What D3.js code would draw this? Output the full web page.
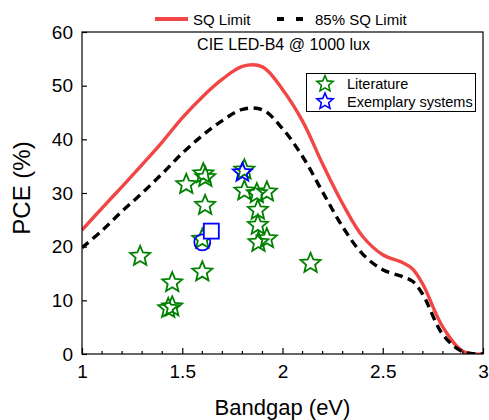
<!DOCTYPE html>
<html>
<head>
<meta charset="utf-8">
<script src="https://cdn.jsdelivr.net/npm/d3@7"></script>
<style>
  html, body { margin: 0; padding: 0; background: #fff; }
  svg { display: block; font-family: "Liberation Sans", Arial, sans-serif; }
</style>
</head>
<body>
<svg id="chart" width="489" height="420"></svg>
<script>
// Shockley–Queisser limit under CIE LED-B4 illumination (1000 lux)
const sqBandgap = [1.0, 1.1, 1.2, 1.3, 1.4, 1.5, 1.6, 1.7, 1.8, 1.9, 2.0, 2.1, 2.2, 2.3, 2.4, 2.5, 2.6, 2.65, 2.7, 2.8, 2.9, 3.0];
const sqPCE     = [23.1, 27.2, 31.2, 35.3, 39.5, 44.0, 47.9, 51.2, 53.6, 53.5, 49.3, 43.4, 35.4, 28.0, 21.9, 18.5, 17.0, 15.8, 13.0, 5.0, 0.5, 0];
const sq85PCE   = [19.8, 23.0, 26.6, 30.0, 33.6, 37.4, 40.7, 43.5, 45.6, 45.5, 42.0, 36.8, 30.2, 23.7, 18.6, 15.7, 14.4, 13.5, 11.1, 3.6, 0.4, 0];

// Reported indoor PV efficiencies
const litBandgap = [1.29, 1.43, 1.45, 1.45, 1.52, 1.60, 1.60, 1.605, 1.615, 1.614, 1.81, 1.81, 1.872, 1.922, 1.877, 1.877, 1.922, 1.88, 2.14];
const litPCE     = [18.2, 8.5, 8.8, 13.3, 31.6, 15.3, 21.4, 33.6, 32.9, 27.7, 34.3, 30.4, 29.9, 30.2, 26.8, 24.0, 21.5, 20.8, 16.9];

// Exemplary systems
const exBandgap = [1.80, 1.60, 1.645];
const exPCE     = [33.8, 20.8, 22.9];
const exShape   = ["star", "circle", "square"];

const xTicks = [1, 1.5, 2, 2.5, 3];
const yTicks = [0, 10, 20, 30, 40, 50, 60];

const svg = d3.select("#chart");
const plot = { left: 82, right: 483, top: 32, bottom: 354 };

const x = d3.scaleLinear().domain([1, 3]).range([plot.left, plot.right]);
const y = d3.scaleLinear().domain([0, 60]).range([plot.bottom, plot.top]);

// hollow five-point star
const starType = {
  draw(ctx, size) {
    const R = Math.sqrt(size), r = R * 0.45;
    for (let i = 0; i < 10; i++) {
      const a = -Math.PI / 2 + i * Math.PI / 5;
      const rad = i % 2 ? r : R;
      const px = rad * Math.cos(a), py = rad * Math.sin(a);
      i ? ctx.lineTo(px, py) : ctx.moveTo(px, py);
    }
    ctx.closePath();
  }
};
const star = s => d3.symbol().type(starType).size(s * s)();

// curves
const sqPts = sqBandgap.map((b, i) => [b, sqPCE[i]]);
const sq85Pts = sqBandgap.map((b, i) => [b, sq85PCE[i]]);
const line = d3.line().x(d => x(d[0])).y(d => y(d[1])).curve(d3.curveCatmullRom.alpha(0.5));

svg.append("clipPath").attr("id", "plotClip").append("rect")
  .attr("x", plot.left).attr("y", plot.top)
  .attr("width", plot.right - plot.left).attr("height", plot.bottom - plot.top);

const g = svg.append("g").attr("clip-path", "url(#plotClip)");
g.append("path").attr("d", line(sqPts))
  .attr("fill", "none").attr("stroke", "#f24646").attr("stroke-width", 3.4);
g.append("path").attr("d", line(sq85Pts))
  .attr("fill", "none").attr("stroke", "#000").attr("stroke-width", 3.4)
  .attr("stroke-dasharray", "8.5,5.5");

// literature points
svg.append("g").selectAll("path").data(litBandgap).join("path")
  .attr("transform", (d, i) => `translate(${x(d)},${y(litPCE[i])})`)
  .attr("d", star(10.5))
  .attr("fill", "none").attr("stroke", "#008000").attr("stroke-width", 1.8)
  .attr("stroke-linejoin", "miter");

// exemplary systems
const exG = svg.append("g");
exBandgap.forEach((b, i) => {
  const t = `translate(${x(b)},${y(exPCE[i])})`;
  if (exShape[i] === "star") {
    exG.append("path").attr("transform", t).attr("d", star(10))
      .attr("fill", "none").attr("stroke", "#0000ff").attr("stroke-width", 1.8);
  } else if (exShape[i] === "circle") {
    exG.append("circle").attr("transform", t).attr("r", 8)
      .attr("fill", "none").attr("stroke", "#0000ff").attr("stroke-width", 1.8);
  } else {
    exG.append("rect").attr("transform", t).attr("x", -7.5).attr("y", -7.5)
      .attr("width", 15).attr("height", 15)
      .attr("fill", "#fff").attr("stroke", "#0000ff").attr("stroke-width", 1.8);
  }
});

// frame
svg.append("rect").attr("x", plot.left).attr("y", plot.top)
  .attr("width", plot.right - plot.left).attr("height", plot.bottom - plot.top)
  .attr("fill", "none").attr("stroke", "#000").attr("stroke-width", 1.2);

// x axis: ticks inside
const xAxis = d3.axisBottom(x).tickValues(xTicks).tickSize(-6).tickPadding(11)
  .tickFormat(d3.format("~g"));
const xa = svg.append("g").attr("transform", `translate(0,${plot.bottom})`).call(xAxis);
xa.select(".domain").remove();
xa.selectAll("line").attr("stroke-width", 1.2);
xa.selectAll("text").attr("font-size", 19).attr("fill", "#000")
  .attr("font-family", "Liberation Sans, Arial, sans-serif");
const xMinor = d3.range(1.1, 3, 0.1).filter(v => Math.abs(v * 2 - Math.round(v * 2)) > 1e-6);
svg.append("g").selectAll("line").data(xMinor).join("line")
  .attr("x1", d => x(d)).attr("x2", d => x(d))
  .attr("y1", plot.bottom).attr("y2", plot.bottom - 3)
  .attr("stroke", "#000").attr("stroke-width", 1.2);

// y axis: ticks inside
const yAxis = d3.axisLeft(y).tickValues(yTicks).tickSize(-5).tickPadding(9);
const ya = svg.append("g").attr("transform", `translate(${plot.left},0)`).call(yAxis);
ya.select(".domain").remove();
ya.selectAll("line").attr("stroke-width", 1.2);
ya.selectAll("text").attr("font-size", 19).attr("fill", "#000")
  .attr("font-family", "Liberation Sans, Arial, sans-serif");

// axis titles
svg.append("text").attr("x", (plot.left + plot.right) / 2).attr("y", 415)
  .attr("text-anchor", "middle").attr("font-size", 22).text("Bandgap (eV)");
svg.append("text").attr("transform", `translate(30,${(plot.top + plot.bottom) / 2 - 5}) rotate(-90)`)
  .attr("text-anchor", "middle").attr("font-size", 24).text("PCE (%)");

// inner title
svg.append("text").attr("x", 283.5).attr("y", 50).attr("text-anchor", "middle")
  .attr("font-size", 16).text("CIE LED-B4 @ 1000 lux");

// top legend
svg.append("line").attr("x1", 155).attr("x2", 188).attr("y1", 19).attr("y2", 19)
  .attr("stroke", "#f24646").attr("stroke-width", 4);
svg.append("text").attr("x", 193).attr("y", 24.5).attr("font-size", 15).text("SQ Limit");
svg.append("line").attr("x1", 277).attr("x2", 303).attr("y1", 19).attr("y2", 19)
  .attr("stroke", "#000").attr("stroke-width", 4).attr("stroke-dasharray", "7,12");
svg.append("text").attr("x", 315).attr("y", 24.5).attr("font-size", 15).text("85% SQ Limit");

// inner legend
const lg = svg.append("g");
lg.append("rect").attr("x", 306.5).attr("y", 73.5).attr("width", 169).attr("height", 38)
  .attr("fill", "#fff").attr("stroke", "#000").attr("stroke-width", 1);
lg.append("path").attr("transform", "translate(325,84)").attr("d", star(8.5))
  .attr("fill", "none").attr("stroke", "#008000").attr("stroke-width", 1.6);
lg.append("path").attr("transform", "translate(325,101.5)").attr("d", star(8.5))
  .attr("fill", "none").attr("stroke", "#0000ff").attr("stroke-width", 1.6);
lg.append("text").attr("x", 347).attr("y", 89).attr("font-size", 14.5).text("Literature");
lg.append("text").attr("x", 347).attr("y", 106.5).attr("font-size", 14.5).text("Exemplary systems");
</script>
</body>
</html>
